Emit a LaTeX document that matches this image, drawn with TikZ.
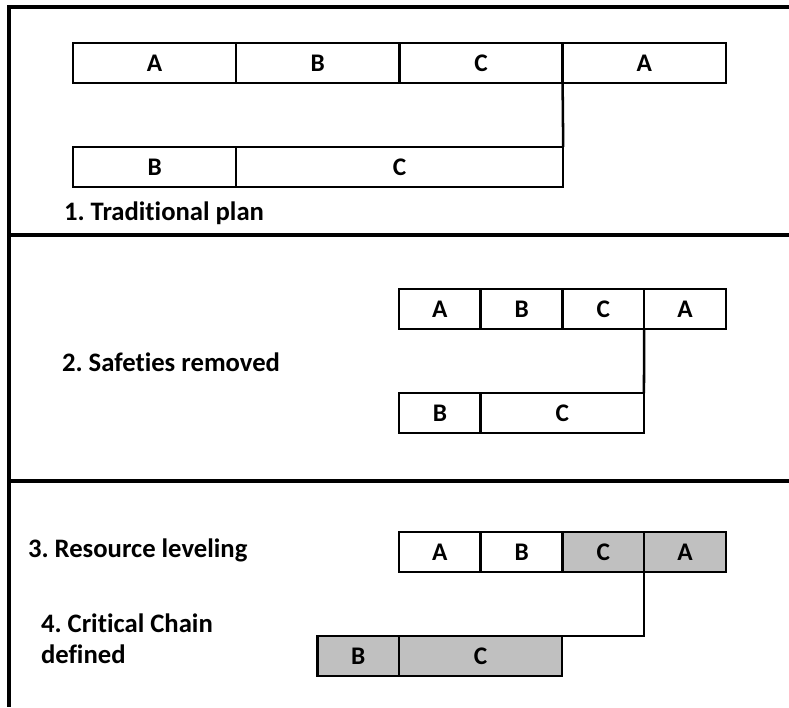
\documentclass[tikz,border=0pt]{standalone}
\usepackage{fontspec}
\setmainfont{Carlito}[Ligatures=NoCommon]
\frenchspacing
\definecolor{shade}{RGB}{192,192,192}
\begin{document}
\begin{tikzpicture}[x=0.75pt,y=-0.75pt,
  frame/.style={line width=2.3pt,black},
  cell/.style={draw=black,line width=1.9pt,fill=white,inner sep=0pt,outer sep=0pt,
    minimum height=30pt,font=\fontsize{19}{22}\selectfont\bfseries},
  wide/.style={minimum width=122.4pt},
  half/.style={minimum width=61.3pt},
  dbl/.style={minimum width=245.25pt},
  crit/.style={fill=shade},
  lab/.style={inner sep=0pt,outer sep=0pt,font=\fontsize{20}{23.25}\selectfont\bfseries,align=left},
  link/.style={line width=1.9pt,black}]
\useasboundingbox (0,0) rectangle (789,707);
% frame
\draw[frame] (789,7) -- (9,7) -- (9,707);
\draw[frame] (9,235) -- (789,235);
\draw[frame] (9,481) -- (789,481);
% section 1
\node[cell,wide,anchor=west] (t1a) at (73,63) {A};
\node[cell,wide,anchor=west] (t1b) at (t1a.east) {B};
\node[cell,wide,anchor=west] (t1c) at (t1b.east) {C};
\node[cell,wide,anchor=west] (t1d) at (t1c.east) {A};
\node[cell,wide,anchor=west] (b1b) at (73,167) {B};
\node[cell,dbl,anchor=west] (b1c) at (b1b.east) {C};
\draw[link] (t1c.south east) -- (b1c.north east);
\node[lab,anchor=base west] (l1) at (64,220) {1. Traditional plan};
% section 2
\node[cell,half,anchor=west] (t2a) at (399,309) {A};
\node[cell,half,anchor=west] (t2b) at (t2a.east) {B};
\node[cell,half,anchor=west] (t2c) at (t2b.east) {C};
\node[cell,half,anchor=west] (t2d) at (t2c.east) {A};
\node[cell,half,anchor=west] (b2b) at (399,413) {B};
\node[cell,wide,anchor=west] (b2c) at (b2b.east) {C};
\draw[link] (t2c.south east) -- (b2c.north east);
\node[lab,anchor=base west] (l2) at (62,371) {2. Safeties removed};
% section 3
\node[cell,half,anchor=west] (t3a) at (399,552) {A};
\node[cell,half,anchor=west] (t3b) at (t3a.east) {B};
\node[cell,half,crit,anchor=west] (t3c) at (t3b.east) {C};
\node[cell,half,crit,anchor=west] (t3d) at (t3c.east) {A};
\node[cell,half,crit,anchor=east] (b3b) at (399,656) {B};
\node[cell,wide,crit,anchor=west] (b3c) at (b3b.east) {C};
\draw[link] (t3c.south east) |- (b3c.north east);
\node[lab,anchor=base west] (l3) at (28,557) {3. Resource leveling};
\node[lab,anchor=north west] (l4) at (41,614) {4. Critical Chain\\defined};
\end{tikzpicture}
\end{document}
